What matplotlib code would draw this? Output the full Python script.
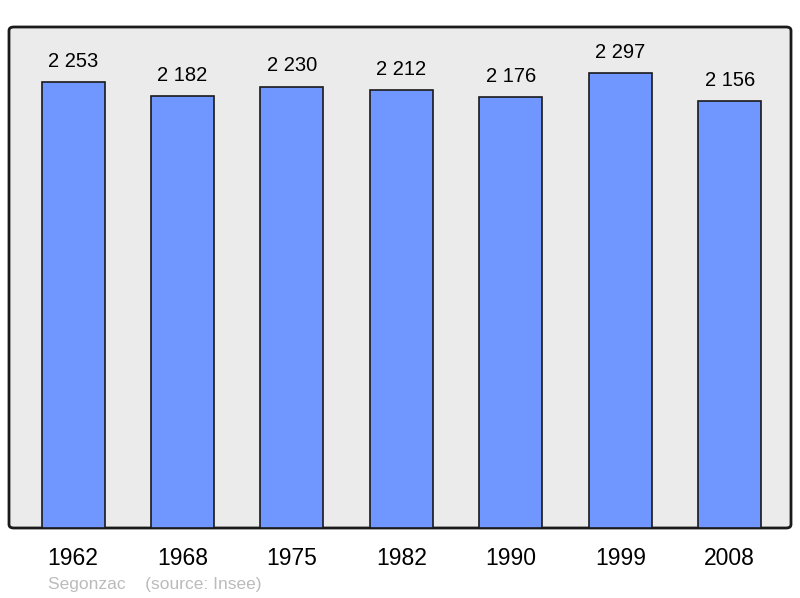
import matplotlib.pyplot as plt
from matplotlib.patches import FancyBboxPatch

plt.rcParams['font.family'] = ['Liberation Sans', 'DejaVu Sans']

years = ['1962', '1968', '1975', '1982', '1990', '1999', '2008']
population = [2253, 2182, 2230, 2212, 2176, 2297, 2156]
labels = ['2 253', '2 182', '2 230', '2 212', '2 176', '2 297', '2 156']

fig = plt.figure(figsize=(8, 5.98), dpi=100)
ax = fig.add_axes([9/800, 70/598, 782/800, 501/598])
ax.set_facecolor('none')

# rounded background box, behind the axes
box = FancyBboxPatch((9/800, 70/598), 782/800, 501/598,
                     boxstyle='round,pad=0,rounding_size=0.006',
                     transform=fig.transFigure, facecolor='#ebebeb',
                     edgecolor='#1a1a1a', linewidth=2, zorder=-1)
fig.patches.append(box)

x = range(len(years))
ax.bar(x, population, width=0.576, color='#7096ff', edgecolor='#1a1a1a',
       linewidth=1.2, zorder=2)
for i, (v, t) in enumerate(zip(population, labels)):
    ax.annotate(t, (i, v), xytext=(0, 8), textcoords='offset points',
                ha='center', va='bottom', fontsize=14.5)

ax.set_xlim(-0.585, 6.56)
ax.set_ylim(0, 2531)
ax.set_xticks(list(x))
ax.set_xticklabels(years, fontsize=16.5)
ax.set_yticks([])
ax.tick_params(axis='x', length=0, pad=14)
for s in ax.spines.values():
    s.set_visible(False)

fig.text(48/800, 1 - 584/598, 'Segonzac    (source: Insee)', color='#bbbbbb',
         fontsize=12.5, va='center', ha='left')

fig.savefig('out.png', dpi=100)
